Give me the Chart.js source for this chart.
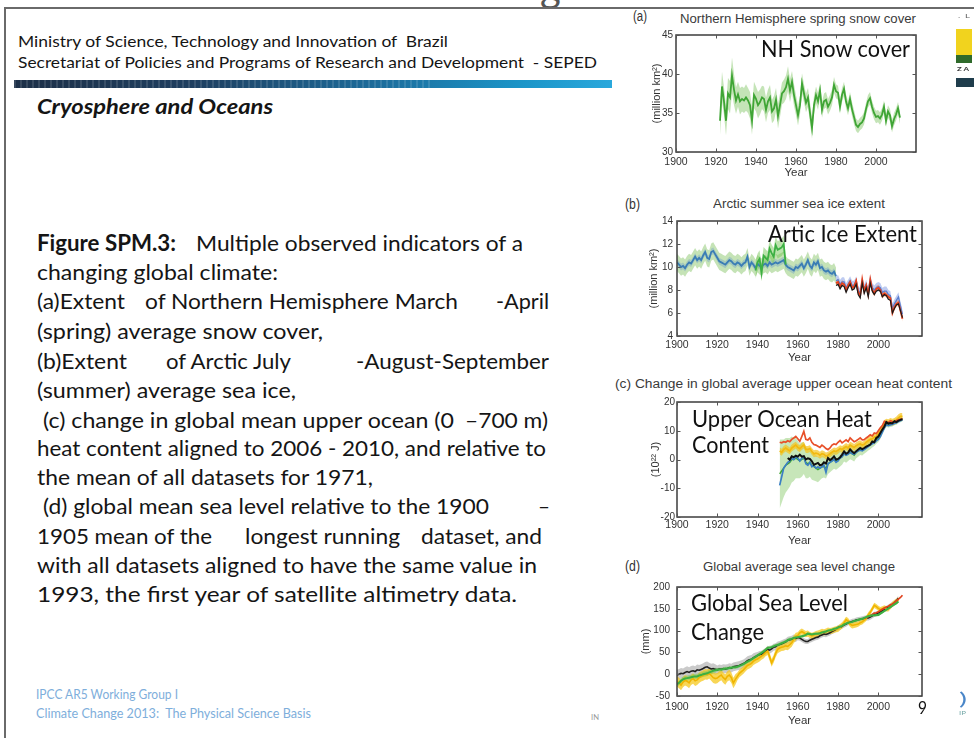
<!DOCTYPE html>
<html><head><meta charset="utf-8">
<script src="https://cdn.jsdelivr.net/npm/chart.js@4.4.1/dist/chart.umd.min.js"></script>
<style>
html,body{margin:0;padding:0;background:#fff;}
body{width:974px;height:738px;position:relative;overflow:hidden;font-family:Lato,"Open Sans",sans-serif;}
.t{position:absolute;white-space:pre;line-height:1;transform-origin:0 50%;color:#151515;}
.ct{font-family:"Liberation Sans",Arial,sans-serif;color:#3a3a3a;font-size:12.5px;}
.fig{font-size:22px;}
.ov{font-size:24px;color:#111;}
canvas{position:absolute;}
.blk{position:absolute;}
</style>
</head><body>

<div class="blk" style="left:4px;top:7px;width:970px;height:2px;background:#6a6a6a"></div>
<div class="blk" style="left:4px;top:7px;width:2px;height:731px;background:#6a6a6a"></div>
<div class="blk" style="left:530px;top:0;width:40px;height:7px;overflow:hidden"><span style="position:absolute;left:10px;top:-33px;font-size:40px;color:#555;line-height:1">g</span></div>
<div class="blk" style="left:14px;top:80px;width:598px;height:8px;background:linear-gradient(to right,#1d3048 0%,#1f3f60 30%,#1d6b9a 60%,#1b95c8 85%,#2aa8dc 100%)"></div>
<div class="blk" style="left:14px;top:80px;width:420px;height:8px;background:repeating-linear-gradient(to right,rgba(255,255,255,0.12) 0 2px,rgba(0,0,0,0) 2px 6px)"></div>

<span class="t" style="font-size:16px" data-x="18" data-y="42" data-w="430">Ministry of Science, Technology and Innovation of  Brazil</span>
<span class="t" style="font-size:16px" data-x="18" data-y="63" data-w="579">Secretariat of Policies and Programs of Research and Development  - SEPED</span>
<span class="t" style="font-size:20px;font-weight:bold;font-style:italic" data-x="37" data-y="107" data-w="236">Cryosphere and Oceans</span>

<span class="t fig" style="font-weight:bold" data-x="37" data-y="245" data-w="139">Figure SPM.3:</span>
<span class="t fig" data-x="196" data-y="245" data-w="327">Multiple observed indicators of a</span>
<span class="t fig" data-x="37" data-y="274" data-w="241">changing global climate:</span>
<span class="t fig" data-x="37" data-y="303" data-w="88">(a)Extent</span>
<span class="t fig" data-x="145" data-y="303" data-w="313">of Northern Hemisphere March</span>
<span class="t fig" data-x="496" data-y="303" data-w="53">-April</span>
<span class="t fig" data-x="37" data-y="333" data-w="286">(spring) average snow cover,</span>
<span class="t fig" data-x="37" data-y="363" data-w="90">(b)Extent</span>
<span class="t fig" data-x="166" data-y="363" data-w="125">of Arctic July</span>
<span class="t fig" data-x="356" data-y="363" data-w="193">-August-September</span>
<span class="t fig" data-x="37" data-y="392" data-w="259">(summer) average sea ice,</span>
<span class="t fig" data-x="43" data-y="422" data-w="411">(c) change in global mean upper ocean (0</span>
<span class="t fig" data-x="465" data-y="422" data-w="83">–700 m)</span>
<span class="t fig" data-x="37" data-y="450" data-w="509">heat content aligned to 2006 - 2010, and relative to</span>
<span class="t fig" data-x="37" data-y="479" data-w="336">the mean of all datasets for 1971,</span>
<span class="t fig" data-x="43" data-y="508" data-w="446">(d) global mean sea level relative to the 1900</span>
<span class="t fig" data-x="538" data-y="508" data-w="12">–</span>
<span class="t fig" data-x="37" data-y="538" data-w="175">1905 mean of the</span>
<span class="t fig" data-x="245" data-y="538" data-w="155">longest running</span>
<span class="t fig" data-x="421" data-y="538" data-w="121">dataset, and</span>
<span class="t fig" data-x="37" data-y="567" data-w="500">with all datasets aligned to have the same value in</span>
<span class="t fig" data-x="37" data-y="596" data-w="480">1993, the first year of satellite altimetry data.</span>

<span class="t" style="font-size:13px;color:#7eaedb" data-x="36" data-y="695" data-w="142">IPCC AR5 Working Group I</span>
<span class="t" style="font-size:13px;color:#7eaedb" data-x="36" data-y="714" data-w="275">Climate Change 2013:  The Physical Science Basis</span>
<span class="t" style="font-size:7px;color:#999" data-x="591" data-y="718" data-w="8">IN</span>

<canvas id="cA" width="280" height="158" style="left:640px;top:26px"></canvas>
<canvas id="cB" width="285" height="158" style="left:641px;top:211px"></canvas>
<canvas id="cC" width="285" height="158" style="left:641px;top:394px"></canvas>
<canvas id="cD" width="295" height="158" style="left:631px;top:574px"></canvas>

<span class="t ct" style="font-size:14px;color:#333" data-x="633" data-y="17" data-w="14">(a)</span>
<span class="t ct" data-x="680" data-y="20" data-w="236">Northern Hemisphere spring snow cover</span>
<span class="t ct" style="font-size:14px;color:#333" data-x="625" data-y="205" data-w="15">(b)</span>
<span class="t ct" data-x="713" data-y="205" data-w="172">Arctic summer sea ice extent</span>
<span class="t ct" data-x="615" data-y="385" data-w="337">(c) Change in global average upper ocean heat content</span>
<span class="t ct" style="font-size:14px;color:#333" data-x="625" data-y="567" data-w="15">(d)</span>
<span class="t ct" data-x="703" data-y="568" data-w="192">Global average sea level change</span>

<span class="t ov" data-x="761" data-y="50" data-w="149">NH Snow cover</span>
<span class="t ov" data-x="768" data-y="235" data-w="149">Artic Ice Extent</span>
<span class="t ov" data-x="692" data-y="420" data-w="180">Upper Ocean Heat</span>
<span class="t ov" data-x="692" data-y="446" data-w="77">Content</span>
<span class="t ov" data-x="691" data-y="604" data-w="157">Global Sea Level</span>
<span class="t ov" data-x="691" data-y="633" data-w="73">Change</span>
<span class="t" style="font-size:17px;color:#111" data-x="918" data-y="709" data-w="9">9</span>

<span class="t" style="font-size:6px;color:#666" data-x="958" data-y="16" data-w="12">.  L</span>
<div class="blk" style="left:956px;top:29px;width:16px;height:26px;background:#f1d31e"></div>
<div class="blk" style="left:956px;top:55px;width:16px;height:8px;background:#2f6a2b"></div>
<span class="t" style="font-size:6px;font-weight:bold;color:#333" data-x="957" data-y="69" data-w="12">Z A</span>
<div class="blk" style="left:956px;top:78px;width:18px;height:9px;background:#1f3d4c"></div>
<span class="t" style="font-size:18px;color:#4a86c8" data-x="959" data-y="699" data-w="8">)</span>
<span class="t" style="font-size:6px;color:#7aa" data-x="959" data-y="713" data-w="7">IP</span>

<script>
// ---------- shared axis ticks ----------
const xTickYears = [1900, 1920, 1940, 1960, 1980, 2000];
const snowYTicks = [30, 35, 40, 45];
const iceYTicks = [4, 6, 8, 10, 12, 14];
const heatYTicks = [-20, -10, 0, 10, 20];
const seaYTicks = [-50, 0, 50, 100, 150, 200];

// ---------- (a) NH spring snow cover ----------
const snowYears = [1922,1923,1924,1925,1926,1927,1928,1929,1930,1931,1932,1933,1934,1935,1936,1937,1938,1939,1940,1941,1942,1943,1944,1945,1946,1947,1948,1949,1950,1951,1952,1953,1954,1955,1956,1957,1958,1959,1960,1961,1962,1963,1964,1965,1966,1967,1968,1969,1970,1971,1972,1973,1974,1975,1976,1977,1978,1979,1980,1981,1982,1983,1984,1985,1986,1987,1988,1989,1990,1991,1992,1993,1994,1995,1996,1997,1998,1999,2000,2001,2002,2003,2004,2005,2006,2007,2008,2009,2010,2011,2012];
const snowCover = [34.0,38.4,36.5,34.0,37.5,37.0,39.8,38.0,36.6,37.4, 36.5,36.8,36.6,37.0,36.6,36.0,34.0,37.3,36.8,36.0, 36.4,37.0,36.8,35.4,36.5,37.0,35.2,35.6,36.7,34.6, 36.0,37.5,37.8,38.3,39.4,37.9,39.0,37.3,36.0,34.7, 36.0,38.8,37.5,36.3,37.0,35.0,33.1,36.0,37.3,36.5, 37.9,35.4,36.5,36.7,35.8,36.3,37.0,38.6,37.8,37.6, 35.8,37.3,38.1,36.5,35.6,36.8,35.5,34.5,33.5,33.2, 33.6,33.8,34.3,35.5,36.5,36.9,35.8,35.0,34.5,34.6, 34.3,34.8,35.8,34.0,35.2,34.7,33.3,34.2,34.8,35.6, 34.4];
const snowErr = [1.8,1.9,1.8,1.9,2.0,2.1,2.3,2.0,1.7,1.6, 1.7,1.6,1.6,1.7,1.6,1.7,1.8,1.7,1.6,1.7, 1.6,1.5,1.6,1.6,1.5,1.6,1.5,1.6,1.5,1.6, 1.5,1.4,1.5,1.5,1.6,1.5,1.4,1.4,1.3,1.3, 1.2,1.3,1.2,1.2,1.2,1.3,1.4,1.2,1.1,1.1, 1.0,1.0,1.0,1.0,1.0,1.0,1.0,1.0,0.9,0.9, 0.9,0.9,0.9,0.9,0.9,0.9,0.9,0.9,0.8,0.8, 0.8,0.8,0.8,0.8,0.8,0.8,0.8,0.8,0.8,0.8, 0.8,0.8,0.8,0.8,0.8,0.8,0.8,0.8,0.8,0.8, 0.8];

// ---------- (b) Arctic summer sea ice ----------
const iceYears = [1900,1901,1902,1903,1904,1905,1906,1907,1908,1909,1910,1911,1912,1913,1914,1915,1916,1917,1918,1919,1920,1921,1922,1923,1924,1925,1926,1927,1928,1929,1930,1931,1932,1933,1934,1935,1936,1937,1938,1939,1940,1941,1942,1943,1944,1945,1946,1947,1948,1949,1950,1951,1952,1953,1954,1955,1956,1957,1958,1959,1960,1961,1962,1963,1964,1965,1966,1967,1968,1969,1970,1971,1972,1973,1974,1975,1976,1977,1978,1979];
const iceExtent = [10.4,10.2,10.0,10.1,9.9,10.2,10.4,10.3,10.6,10.9, 10.6,10.8,10.6,11.0,11.3,10.8,10.7,11.3,11.4,11.1, 10.8,10.5,10.4,10.3,10.2,10.4,10.6,10.5,10.3,10.2, 10.4,10.3,10.1,10.3,10.4,10.9,10.0,10.4,10.2,9.9, 10.3,10.1,10.0,10.2,10.3,10.1,10.4,10.2,10.3,10.4, 10.3,10.4,10.5,10.6,10.2,10.0,9.9,9.8,9.7,10.0, 9.9,10.1,10.3,9.9,10.2,10.6,10.1,9.9,10.4,10.2, 10.5,9.9,10.0,9.7,9.6,9.7,9.5,9.4,9.6,9.2];
const iceGreenYears = [1939,1940,1941,1942,1943,1944,1945,1946,1947,1948,1949,1950,1951,1952,1953,1954];
const iceGreen = [9.7,10.4,10.7,9.5,11.0,10.8,10.6,11.6,11.2,10.9,11.9,11.5,11.6,11.7,12.0,10.2];
const iceSatYears = [1979,1980,1981,1982,1983,1984,1985,1986,1987,1988,1989,1990,1991,1992,1993,1994,1995,1996,1997,1998,1999,2000,2001,2002,2003,2004,2005,2006,2007,2008,2009,2010,2011,2012];
const iceSatRed = [8.6,8.7,8.3,8.6,8.5,8.0,8.4,8.7,8.2,8.3,8.8,7.8,7.5,8.9,7.9,8.4,7.6,8.9,8.0,7.7,8.1,8.2,8.0,7.5,7.7,7.6,7.4,7.3,6.0,6.5,6.8,6.9,6.2,5.5];
const iceSatBlack = [8.4,8.5,8.1,8.4,8.3,7.8,8.2,8.5,8.0,8.1,8.5,7.6,7.3,8.6,7.7,8.2,7.4,8.6,7.9,7.6,7.9,8.0,7.9,7.4,7.6,7.5,7.2,7.1,6.0,6.4,6.7,6.8,6.2,5.6];
const iceSatBlue = [8.8,8.9,8.5,8.7,8.7,8.2,8.5,8.8,8.4,8.4,8.8,8.0,7.7,8.8,8.1,8.5,7.8,8.9,8.2,8.0,8.2,8.3,8.2,7.8,7.9,7.9,7.6,7.5,6.4,6.8,7.1,7.4,6.6,5.9];
const iceLongErr = 0.75, iceGreenErr = 0.75, iceSatErr = 0.4;

// ---------- (c) upper ocean heat content ----------
const heatYears = [1951,1952,1953,1954,1955,1956,1957,1958,1959,1960,1961,1962,1963,1964,1965,1966,1967,1968,1969,1970,1971,1972,1973,1974,1975,1976,1977,1978,1979,1980,1981,1982,1983,1984,1985,1986,1987,1988,1989,1990,1991,1992,1993,1994,1995,1996,1997,1998,1999,2000,2001,2002,2003,2004,2005,2006,2007,2008,2009,2010,2011,2012];
const heatRed = [6.0,5.8,6.2,6.0,6.5,6.2,7.0,7.5,8.0,7.2, 6.3,8.0,9.8,7.0,6.8,7.5,6.0,5.2,5.0,4.6, 4.2,5.0,4.5,3.8,3.4,4.0,5.0,5.4,5.2,6.0, 6.6,5.8,6.3,6.8,6.2,7.5,6.8,6.2,6.5,7.0, 7.5,6.8,6.9,7.5,8.0,8.6,8.2,9.2,9.0,10.0, 11.0,11.8,13.3,13.0,12.8,13.5,13.2,13.0,13.6,13.8, 14.0,14.2];
const heatYellow = [3.0,2.5,3.5,4.0,3.5,3.0,4.0,4.5,5.0,4.2, 3.8,4.5,5.0,3.5,3.5,3.8,2.8,2.0,2.2,2.0, 1.5,2.0,1.8,1.2,1.5,2.0,2.5,3.0,2.8,3.2, 3.8,3.5,4.0,4.5,4.0,5.0,4.6,4.2,4.8,5.2, 5.5,5.0,5.3,6.0,6.5,7.0,7.2,7.8,8.0,9.0, 10.0,11.0,12.5,13.0,12.8,13.2,13.0,13.2,13.8,14.5, 15.0,15.0];
const heatBlue = [-9.0,-6.0,-3.0,-2.0,-1.0,-0.5,0.5,0.0,1.0,0.5, -0.5,0.5,1.0,-1.5,-2.0,-1.0,-2.5,-2.0,-3.0,-2.5, -3.0,-2.5,-2.0,-4.5,-1.5,-1.0,-0.5,0.0,-1.0,-0.5, 0.5,1.0,2.0,1.5,1.8,2.5,2.0,1.8,2.5,3.0, 3.2,3.0,3.5,4.0,4.5,5.0,5.5,5.8,6.5,7.0, 8.0,9.5,11.0,12.0,11.8,12.0,12.2,12.5,12.8,13.2, 13.5,13.8];
const heatGreen = [-5,-4,-3,-2,-1.5,-1,0,0,0.5,0, -0.5,0,0.5,-1,-1.5,-1,-2,-2.5,-3,-3.5, -3,-2.5,-2.5,-3,-1.5,-1,-0.5,0,-0.5,0, 0.5,1,2,1.5,2,2.5,2,1.5,2.5,3, 3.5,3.2,3.8,4.2,4.8,5.2,5.8,6.2,7,7.5, 8.5,10,11.5,12.5,12.3,12.5,12.6,13,13.2,13.6, 14,14.2];
const heatGreenErr = [12,11,10,9.5,9,8.5,8,7.5,7,6.5, 6,6,5.5,5.5,5,5,5,4.8,4.6,4.4, 4.2,4,3.8,3.6,3.5,3.4,3.3,3.2,3.1,3, 2.9,2.8,2.7,2.6,2.5,2.4,2.3,2.2,2.1,2, 1.9,1.8,1.8,1.7,1.7,1.6,1.6,1.5,1.5,1.4, 1.4,1.3,1.3,1.2,1.2,1.2,1.1,1.1,1.1,1.0, 1.0,1.0];
const heatBlackYears = [1955,1956,1957,1958,1959,1960,1961,1962,1963,1964,1965,1966,1967,1968,1969,1970,1971,1972,1973,1974,1975,1976,1977,1978,1979,1980,1981,1982,1983,1984,1985,1986,1987,1988,1989,1990,1991,1992,1993,1994,1995,1996,1997,1998,1999,2000,2001,2002,2003,2004,2005,2006,2007,2008,2009,2010,2011,2012];
const heatBlack = [0.5,-0.1,1.1,0.8,1.3,1.0, 1.7,1.0,1.2,0.0,0.4,0.2,-0.6,-1.8,-1.5,-1.2, -2.0,-1.8,-1.0,-1.4,0.5,-0.2,0.3,1.1,0.0,0.2, 0.8,1.7,2.8,2.0,2.4,3.5,2.8,2.2,2.9,3.5, 4.0,3.6,4.0,4.5,4.8,5.2,6.3,6.0,7.5,8.0, 9.2,10.4,11.5,13.0,12.5,12.7,12.6,13.3,13.0,13.5, 13.8,14.0];

// ---------- (d) global mean sea level ----------
const seaYears = [1900,1901,1902,1903,1904,1905,1906,1907,1908,1909,1910,1911,1912,1913,1914,1915,1916,1917,1918,1919,1920,1921,1922,1923,1924,1925,1926,1927,1928,1929,1930,1931,1932,1933,1934,1935,1936,1937,1938,1939,1940,1941,1942,1943,1944,1945,1946,1947,1948,1949,1950,1951,1952,1953,1954,1955,1956,1957,1958,1959,1960,1961,1962,1963,1964,1965,1966,1967,1968,1969,1970,1971,1972,1973,1974,1975,1976,1977,1978,1979,1980,1981,1982,1983,1984,1985,1986,1987,1988,1989,1990,1991,1992,1993,1994,1995,1996,1997,1998,1999,2000,2001,2002,2003,2004,2005,2006,2007,2008,2009,2010];
const seaBlack = [-2,0,2,1,4,6,4,7,8,6, 10,9,11,13,16,17,14,12,13,11, 10,12,11,13,12,13,15,14,17,18, 19,20,22,24,27,31,33,34,38,40, 43,45,46,49,52,57,55,58,62,63, 67,68,70,72,74,78,79,80,83,82, 84,83,80,77,75,75,78,80,82,84, 85,88,90,92,91,93,95,98,100,103, 107,108,110,113,115,118,119,121,122,124, 125,126,127,128,129,129,131,134,137,138, 140,143,146,149,151,154,157,160,164,168,174];
const seaBlackErr = [12,12,12,12,12,12,12,12,12,12, 12,12,12,12,12,12,12,12,12,12, 10,10,10,10,10,10,10,10,10,10, 10,10,10,10,10,10,10,10,10,10, 8,8,8,8,8,8,8,8,8,8, 8,8,8,8,8,8,8,8,8,8, 6,6,6,6,6,6,6,6,6,6, 6,6,6,6,6,6,6,6,6,6, 6,6,6,6,6,6,6,6,6,6, 6,6,6,6,6,6,6,6,6,6, 6,6,6,6,6,6,6,6,6,6,6];
const seaGreen = [-23,-20,-15,-12,-10,-9,-8,-7,-6,-5, -5,-3,-2,0,1,2,4,6,8,9, 10,11,11,12,13,13,14,15,16,16, 17,19,21,23,26,29,31,34,37,40, 43,46,49,52,56,60,61,62,64,66, 67,69,71,73,75,78,80,81,83,84, 85,86,87,88,90,93,92,91,92,93, 93,94,96,97,98,100,101,102,104,105, 107,109,111,114,116,118,119,120,122,123, 125,126,127,129,131,133,134,135,135,136, 136,139,142,145,148,151,154,157,160,163,167];
const seaGreenErr = [6,6,6,6,6,6,6,6,6,6, 6,6,6,6,6,6,6,6,6,6, 4,4,4,4,4,4,4,4,4,4, 4,4,4,4,4,4,4,4,4,4, 4,4,4,4,4,4,4,4,4,4, 4,4,4,4,4,4,4,4,4,4, 3,3,3,3,3,3,3,3,3,3, 3,3,3,3,3,3,3,3,3,3, 3,3,3,3,3,3,3,3,3,3, 3,3,3,3,3,3,3,3,3,3, 3,3,3,3,3,3,3,3,3,3,3];
const seaYellow = [-16,-20,-25,-18,-14,-16,-20,-13,-10,-15, -13,-8,-5,-3,0,-1,2,-3,-8,-10, -9,-5,-2,-8,-12,-5,-2,-8,-20,-12, -5,2,6,10,15,20,22,25,30,33, 35,38,42,45,50,53,40,26,35,48, 57,60,62,63,65,64,68,72,80,86, 89,95,98,95,92,93,90,88,90,92, 93,95,97,96,98,100,99,100,102,103, 104,108,112,118,125,122,115,112,113,114, 115,118,120,124,128,136,142,150,158,155, 151,148,150,152,150,150,155,160,164,167,171];
const seaYellowErr = [12,12,12,12,12,12,12,12,12,12, 12,12,12,12,12,12,12,12,12,12, 12,12,12,12,12,12,12,12,12,12, 9,9,9,9,9,9,9,9,9,9, 9,9,9,9,9,9,9,9,9,9, 9,9,9,9,9,9,9,9,9,9, 7,7,7,7,7,7,7,7,7,7, 7,7,7,7,7,7,7,7,7,7, 7,7,7,7,7,7,7,7,7,7, 6,6,6,6,6,6,6,6,6,6, 6,6,6,6,6,6,6,6,6,6,6];
const seaSatYears = [1993,1994,1995,1996,1997,1998,1999,2000,2001,2002,2003,2004,2005,2006,2007,2008,2009,2010,2011,2012];
const seaSatRed = [128,130,132,134,137,140,141,143,146,149,152,154,156,159,161,164,168,172,176,181];

// ---------- helpers ----------
function pts(xs, ys) { return xs.map((x, i) => ({x: x, y: ys[i]})); }
function errAt(err, i) { return Array.isArray(err) ? err[i] : err; }
function line(xs, ys, color, width, order) {
  return {data: pts(xs, ys), borderColor: color, borderWidth: width, pointRadius: 0, tension: 0, fill: false, order: order};
}
function band(xs, ys, err, color, order) {
  const up = xs.map((x, i) => ({x: x, y: ys[i] + errAt(err, i)}));
  const lo = xs.map((x, i) => ({x: x, y: ys[i] - errAt(err, i)}));
  return [
    {data: up, borderWidth: 0, pointRadius: 0, tension: 0, fill: false, order: order, borderColor: 'rgba(0,0,0,0)'},
    {data: lo, borderWidth: 0, pointRadius: 0, tension: 0, fill: '-1', backgroundColor: color, order: order, borderColor: 'rgba(0,0,0,0)'}
  ];
}

const boxPlugin = {
  id: 'mbox',
  afterDatasetsDraw(chart) {
    const {ctx, chartArea: a, scales} = chart;
    ctx.save();
    ctx.strokeStyle = '#3c3c3c';
    ctx.lineWidth = 1.5;
    ctx.strokeRect(a.left, a.top, a.right - a.left, a.bottom - a.top);
    ctx.lineWidth = 1;
    ctx.strokeStyle = '#555';
    const L = 3.5;
    ctx.beginPath();
    scales.x.ticks.forEach(t => {
      const p = Math.round(scales.x.getPixelForValue(t.value)) + 0.5;
      ctx.moveTo(p, a.bottom); ctx.lineTo(p, a.bottom - L);
      ctx.moveTo(p, a.top); ctx.lineTo(p, a.top + L);
    });
    scales.y.ticks.forEach(t => {
      const p = Math.round(scales.y.getPixelForValue(t.value)) + 0.5;
      ctx.moveTo(a.left, p); ctx.lineTo(a.left + L, p);
      ctx.moveTo(a.right, p); ctx.lineTo(a.right - L, p);
    });
    ctx.stroke();
    ctx.restore();
  }
};

function makeChart(id, o) {
  const fam = '"Liberation Sans", Arial, sans-serif';
  return new Chart(document.getElementById(id), {
    type: 'line',
    data: {datasets: o.datasets},
    plugins: [boxPlugin],
    options: {
      responsive: false, animation: false, events: [],
      layout: {padding: {left: 6, right: 4, top: 8, bottom: 2}},
      plugins: {legend: {display: false}, tooltip: {enabled: false}, title: {display: false}},
      scales: {
        x: {
          type: 'linear', min: 1900, max: o.xMax,
          afterBuildTicks: s => { s.ticks = xTickYears.map(v => ({value: v})); },
          afterFit: s => { s.height = o.xHeight; },
          grid: {display: false, drawTicks: false}, border: {display: false},
          ticks: {color: '#333', font: {family: fam, size: 10.5}, padding: o.xTickPad, maxRotation: 0, autoSkip: false, callback: v => String(v)},
          title: {display: true, text: 'Year', color: '#333', font: {family: fam, size: 11.5}, padding: {top: 0, bottom: 2}}
        },
        y: {
          type: 'linear', min: o.yTicks[0], max: o.yTicks[o.yTicks.length - 1],
          afterBuildTicks: s => { s.ticks = o.yTicks.map(v => ({value: v})); },
          afterFit: s => { s.width = o.yWidth; },
          grid: {display: false, drawTicks: false}, border: {display: false},
          ticks: {color: '#333', font: {family: fam, size: 10}, padding: o.yTickPad, autoSkip: false, callback: v => String(v)},
          title: {display: true, text: o.yTitle, color: '#333', font: {family: fam, size: 11}, padding: {top: o.yTitlePad, bottom: 0}}
        }
      }
    }
  });
}

const GREEN = '#3fa535', LGREEN = 'rgba(125,195,95,0.45)';

makeChart('cA', {
  xMax: 2020, xHeight: 30, xTickPad: 4, yTicks: snowYTicks, yWidth: 30, yTickPad: 3, yTitlePad: 4,
  yTitle: '(million km²)',
  datasets: [
    ...band(snowYears, snowCover, snowErr, LGREEN, 10),
    line(snowYears, snowCover, GREEN, 1.8, 1)
  ]
});

makeChart('cB', {
  xMax: 2021.7, xHeight: 31, xTickPad: 3, yTicks: iceYTicks, yWidth: 30, yTickPad: 4, yTitlePad: 0,
  yTitle: '(million km²)',
  datasets: [
    ...band(iceYears, iceExtent, iceLongErr, 'rgba(140,200,110,0.5)', 20),
    ...band(iceYears, iceExtent, 0.3, 'rgba(100,150,200,0.35)', 19),
    ...band(iceGreenYears, iceGreen, iceGreenErr, 'rgba(120,200,90,0.5)', 18),
    ...band(iceSatYears, iceSatBlue, iceSatErr, 'rgba(110,140,225,0.45)', 17),
    ...band(iceSatYears, iceSatRed, 0.25, 'rgba(245,130,60,0.55)', 16),
    line(iceYears, iceExtent, '#3a7db5', 1.8, 5),
    line(iceGreenYears, iceGreen, '#3cb043', 1.8, 4),
    line(iceSatYears, iceSatBlue, '#5a7fd0', 1.3, 3),
    line(iceSatYears, iceSatRed, '#e8401c', 1.8, 2),
    line(iceSatYears, iceSatBlack, '#1a1a1a', 1.2, 1)
  ]
});

makeChart('cC', {
  xMax: 2021.7, xHeight: 33, xTickPad: 2, yTicks: heatYTicks, yWidth: 30, yTickPad: 2, yTitlePad: 2,
  yTitle: '(10²² J)',
  datasets: [
    ...band(heatYears, heatGreen, heatGreenErr, 'rgba(130,200,100,0.45)', 20),
    ...band(heatYears, heatYellow, 1.2, 'rgba(245,195,30,0.7)', 19),
    line(heatYears, heatGreen, '#3fa535', 1.5, 6),
    line(heatYears, heatBlue, '#3b7fc4', 1.7, 5),
    line(heatYears, heatYellow, '#f2b90f', 1.7, 4),
    line(heatYears, heatRed, '#e8502a', 1.7, 3),
    line(heatBlackYears, heatBlack, '#111111', 2, 1)
  ]
});

makeChart('cD', {
  xMax: 2021.7, xHeight: 34, xTickPad: 5, yTicks: seaYTicks, yWidth: 40, yTickPad: 7, yTitlePad: 2,
  yTitle: '(mm)',
  datasets: [
    ...band(seaYears, seaBlack, seaBlackErr, 'rgba(150,150,150,0.5)', 20),
    ...band(seaYears, seaYellow, seaYellowErr, 'rgba(245,200,30,0.75)', 19),
    ...band(seaYears, seaGreen, seaGreenErr, 'rgba(120,200,90,0.5)', 18),
    line(seaYears, seaBlack, '#222222', 1.6, 5),
    line(seaYears, seaYellow, '#f0b400', 1.6, 4),
    line(seaSatYears, seaSatRed, '#e0401c', 1.7, 3),
    line(seaYears, seaGreen, '#3cb043', 2, 2)
  ]
});

function fitTexts() {
  document.querySelectorAll('.t').forEach(el => {
    el.style.transform = 'none';
    const x = +el.dataset.x, y = +el.dataset.y, w = +el.dataset.w;
    const fs = parseFloat(getComputedStyle(el).fontSize);
    el.style.left = x + 'px';
    el.style.top = (y - fs * 0.57) + 'px';
    const nw = el.getBoundingClientRect().width;
    if (w && nw) el.style.transform = 'scaleX(' + (w / nw) + ')';
  });
}
fitTexts();
if (document.fonts && document.fonts.ready) document.fonts.ready.then(fitTexts);
</script>
</body></html>
